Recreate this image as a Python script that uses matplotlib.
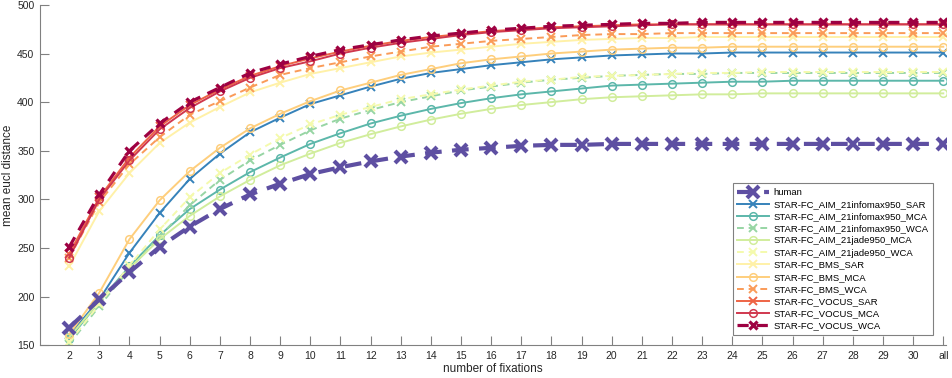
import numpy as np
import matplotlib
matplotlib.use('Agg')
import matplotlib.pyplot as plt

plt.rcParams['font.family'] = ['Liberation Sans', 'DejaVu Sans']

# eje x: numero de fijaciones
tick_labels = [str(i) for i in range(2, 31)] + ['all']
x = list(range(2, 32))

human = [168, 197, 225, 251, 272, 290, 305, 316, 326, 333, 339, 344, 348, 351, 353,
         355, 356, 356, 357, 357, 357, 357, 357, 357, 357, 357, 357, 357, 357, 357]
aim_info_sar = [160, 197, 245, 286, 321, 347, 369, 384, 398, 407, 416, 424, 430, 434, 438,
                441, 444, 446, 448, 449, 450, 450, 451, 451, 451, 451, 451, 451, 451, 451]
aim_info_mca = [156, 195, 231, 263, 290, 310, 328, 343, 357, 368, 378, 386, 393, 399, 404,
                408, 411, 414, 417, 418, 419, 420, 421, 421, 422, 422, 422, 422, 422, 422]
aim_info_wca = [151, 190, 228, 262, 294, 320, 340, 356, 371, 383, 392, 400, 406, 412, 416,
                420, 423, 425, 427, 428, 429, 429, 430, 430, 430, 430, 430, 430, 430, 430]
aim_jade_mca = [158, 195, 229, 259, 283, 303, 320, 335, 347, 358, 367, 375, 382, 388, 393,
                397, 400, 403, 405, 406, 407, 408, 408, 409, 409, 409, 409, 409, 409, 409]
aim_jade_wca = [153, 192, 232, 269, 302, 327, 346, 363, 377, 387, 395, 403, 408, 413, 417,
                421, 423, 426, 427, 428, 429, 430, 430, 431, 431, 431, 431, 431, 431, 431]
bms_sar = [231, 288, 327, 358, 379, 395, 410, 420, 429, 435, 441, 447, 451, 454, 457,
           460, 462, 464, 465, 466, 466, 467, 467, 467, 467, 467, 467, 467, 467, 467]
bms_mca = [161, 204, 259, 299, 329, 353, 373, 388, 401, 412, 420, 428, 434, 440, 444,
           447, 450, 452, 454, 455, 456, 456, 457, 457, 457, 457, 457, 457, 457, 457]
bms_wca = [240, 297, 336, 364, 387, 401, 415, 428, 435, 441, 447, 452, 457, 460, 463,
           465, 467, 469, 470, 470, 471, 471, 471, 471, 471, 471, 471, 471, 471, 471]
vocus_sar = [244, 302, 343, 375, 397, 413, 427, 437, 445, 452, 458, 463, 467, 470, 473,
             475, 477, 478, 479, 480, 480, 480, 480, 480, 480, 480, 480, 480, 480, 480]
vocus_mca = [240, 300, 340, 372, 394, 411, 425, 435, 442, 450, 456, 461, 465, 469, 472,
             474, 476, 477, 478, 479, 480, 480, 480, 480, 480, 480, 480, 480, 480, 480]
vocus_wca = [251, 305, 350, 378, 400, 415, 430, 439, 447, 454, 459, 464, 468, 471, 474,
             476, 478, 479, 480, 481, 481, 482, 482, 482, 482, 482, 482, 482, 482, 482]

names = ['human',
         'STAR-FC_AIM_21infomax950_SAR', 'STAR-FC_AIM_21infomax950_MCA',
         'STAR-FC_AIM_21infomax950_WCA', 'STAR-FC_AIM_21jade950_MCA',
         'STAR-FC_AIM_21jade950_WCA', 'STAR-FC_BMS_SAR', 'STAR-FC_BMS_MCA',
         'STAR-FC_BMS_WCA', 'STAR-FC_VOCUS_SAR', 'STAR-FC_VOCUS_MCA', 'STAR-FC_VOCUS_WCA']
series = [human, aim_info_sar, aim_info_mca, aim_info_wca, aim_jade_mca, aim_jade_wca,
          bms_sar, bms_mca, bms_wca, vocus_sar, vocus_mca, vocus_wca]

colores = plt.cm.Spectral(np.linspace(1, 0, 12))

fig = plt.figure(figsize=(9.52, 3.78), dpi=100)
ax = fig.add_axes([0.042, 0.087, 0.952, 0.9])

for i, (nombre, y) in enumerate(zip(names, series)):
    if nombre == 'human':
        ax.plot(x, y, color=colores[i], lw=3, ls=(0, (4, 2.5)), marker='x', ms=8, mew=3,
                label=nombre, zorder=3)
        continue
    if nombre.endswith('MCA'):
        ls, mk = '-', 'o'
    elif nombre.endswith('SAR'):
        ls, mk = '-', 'x'
    else:
        ls, mk = (0, (3.5, 2.5)), 'x'
    lw = 2.3 if nombre == 'STAR-FC_VOCUS_WCA' else 1.4
    ax.plot(x, y, color=colores[i], ls=ls, lw=lw, marker=mk, ms=5.5,
            mew=lw if mk == 'x' else 1.1, mfc='none', label=nombre)

ax.set_xlim(1.03, 31.1)
ax.set_ylim(150, 500)
ax.set_xticks(x)
ax.set_xticklabels(tick_labels)
ax.set_yticks(range(150, 501, 50))
ax.set_xlabel('number of fixations', fontsize=8.5, color='#262626', labelpad=2)
ax.set_ylabel('mean eucl distance', fontsize=8.5, color='#262626', labelpad=2)

for s in ['top', 'right']:
    ax.spines[s].set_visible(False)
for s in ['left', 'bottom']:
    ax.spines[s].set_color('#808080')
    ax.spines[s].set_linewidth(0.8)
ax.tick_params(direction='in', length=6.5, width=0.8, color='#808080',
               labelsize=7.5, labelcolor='#262626', pad=4)

leg = ax.legend(loc='lower right', bbox_to_anchor=(933 / 952, 43 / 378),
                bbox_transform=fig.transFigure, borderaxespad=0,
                fontsize=6.8, fancybox=False, edgecolor='#808080', framealpha=1,
                handlelength=3.4, labelspacing=0.33, borderpad=0.5, handletextpad=0.4)
leg.get_frame().set_linewidth(0.8)

fig.savefig('out.png', dpi=100)
